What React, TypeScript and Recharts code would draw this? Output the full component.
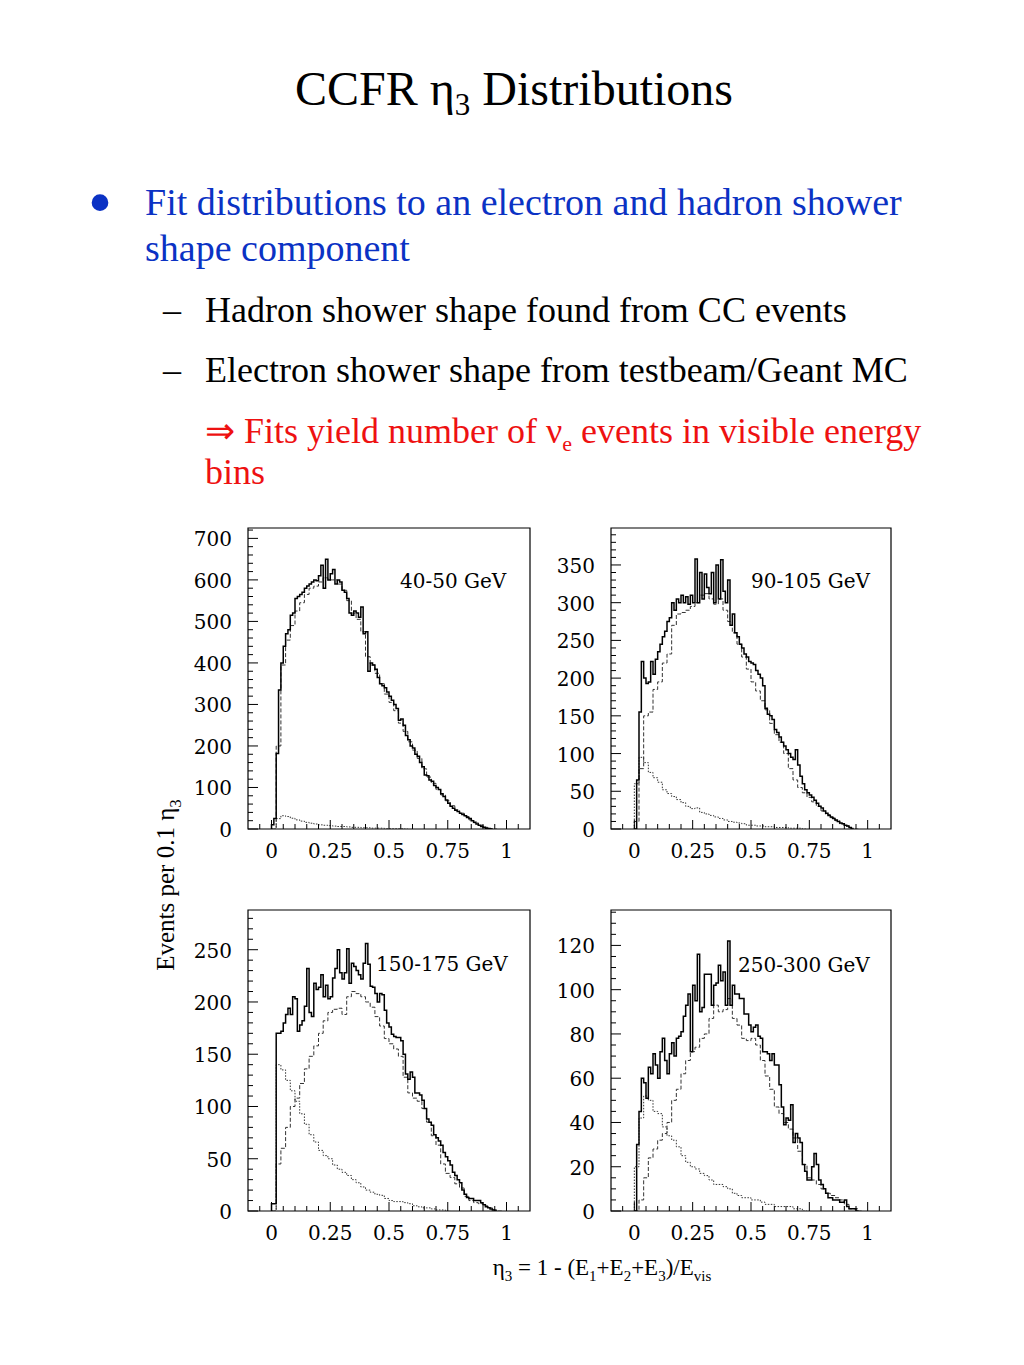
import { LineChart, Line, XAxis, YAxis, ReferenceArea } from 'recharts';

// energy bins shown in the four panels
const energyBins = ['40-50 GeV', '90-105 GeV', '150-175 GeV', '250-300 GeV'];

// data histograms use 0.01 bins, fit components use 0.02 bins (starting at eta3 = 0)
const dataBinWidth = 0.01;
const fitBinWidth = 0.02;

const p1Data = [10, 25, 182, 335, 400, 440, 470, 480, 515, 520, 555, 560, 565, 570, 580, 585, 590, 595, 600, 598,
  610, 635, 580, 650, 600, 615, 625, 590, 600, 595, 575, 570, 555, 520, 515, 525, 520, 510, 535, 470,
  475, 380, 400, 395, 385, 365, 350, 345, 340, 330, 320, 310, 300, 290, 262, 265, 250, 225, 215, 200,
  195, 180, 175, 160, 150, 130, 128, 118, 115, 105, 100, 95, 85, 78, 70, 62, 55, 50, 45, 42,
  38, 35, 32, 28, 25, 20, 16, 12, 9, 6, 4, 2, 1, 0];
const p1Hadron = [0, 200, 395, 455, 490, 525, 545, 565, 580, 585, 595, 605, 600, 600, 590, 575, 550, 520, 505, 475,
  415, 395, 375, 350, 325, 305, 285, 255, 235, 210, 190, 170, 145, 125, 110, 95, 82, 68, 56, 46,
  38, 30, 22, 15, 9, 4, 1, 0];
const p1Electron = [0, 25, 32, 30, 26, 22, 19, 16, 14, 12, 10, 9, 8, 7, 6, 6, 5, 4, 4, 3, 3, 2, 2, 2, 1, 1, 1, 1, 0];

const p2Data = [0, 65, 155, 222, 200, 193, 195, 222, 205, 225, 235, 245, 255, 262, 275, 280, 300, 290, 305, 300,
  310, 300, 308, 298, 310, 300, 358, 300, 340, 305, 338, 320, 312, 340, 300, 350, 305, 357, 315, 300,
  330, 270, 285, 260, 255, 245, 240, 232, 228, 222, 220, 218, 210, 205, 200, 190, 160, 152, 150, 145,
  132, 128, 122, 115, 110, 105, 100, 95, 92, 105, 85, 70, 60, 52, 48, 45, 42, 38, 34, 30,
  28, 24, 21, 18, 16, 14, 12, 10, 8, 7, 5, 4, 2, 0];
const p2Hadron = [10, 80, 150, 155, 185, 195, 220, 232, 270, 285, 287, 290, 295, 300, 310, 312, 305, 298, 305, 290,
  275, 260, 245, 228, 212, 195, 183, 170, 158, 140, 125, 115, 100, 80, 65, 55, 48, 42, 36, 30,
  24, 19, 15, 11, 7, 4, 1, 0];
const p2Electron = [60, 95, 88, 75, 68, 62, 52, 47, 43, 39, 35, 30, 27, 28, 22, 20, 18, 16, 14, 12,
  10, 9, 8, 7, 5, 5, 4, 4, 3, 3, 2, 2, 2, 1, 1, 1, 0];

const p3Data = [7, 7, 170, 170, 172, 180, 188, 194, 188, 205, 203, 172, 178, 182, 196, 232, 190, 186, 218, 212,
  214, 226, 205, 216, 203, 205, 223, 232, 250, 228, 222, 228, 251, 218, 237, 234, 230, 226, 222, 237,
  256, 236, 215, 214, 208, 200, 208, 207, 192, 180, 176, 169, 167, 166, 166, 163, 150, 131, 126, 133,
  128, 113, 113, 111, 106, 98, 88, 85, 82, 73, 70, 67, 63, 56, 52, 48, 44, 37, 34, 30,
  27, 20, 16, 13, 12, 12, 10, 10, 10, 8, 6, 4, 3, 2, 1, 0];
const p3Hadron = [0, 45, 60, 80, 100, 108, 122, 136, 148, 158, 170, 182, 190, 193, 194, 188, 205, 210, 208, 205,
  200, 195, 186, 177, 165, 160, 155, 148, 128, 113, 108, 105, 98, 85, 72, 63, 45, 36, 32, 26,
  22, 14, 10, 8, 7, 5, 3, 1, 0];
const p3Electron = [0, 140, 135, 125, 115, 105, 93, 83, 73, 66, 58, 53, 50, 44, 40, 37, 34, 30, 27, 23,
  20, 18, 16, 15, 12, 10, 9, 9, 8, 7, 5, 4, 3, 3, 2, 1, 1, 0];

const p4Data = [0, 30, 45, 60, 58, 51, 65, 62, 71, 66, 60, 72, 78, 68, 62, 71, 76, 70, 78, 79,
  81, 88, 93, 98, 72, 102, 95, 116, 90, 92, 107, 107, 107, 93, 102, 103, 111, 104, 108, 93,
  122, 93, 102, 98, 98, 96, 96, 89, 89, 84, 81, 83, 84, 79, 78, 72, 72, 71, 68, 71,
  66, 66, 57, 47, 39, 42, 41, 48, 31, 35, 33, 31, 21, 18, 14, 14, 20, 26, 21, 14,
  12, 10, 8, 6, 6, 5, 5, 5, 4, 4, 5, 2, 1, 1, 1, 0];
const p4Hadron = [0, 5, 15, 24, 28, 32, 35, 40, 50, 55, 62, 68, 72, 74, 78, 80, 87, 93, 90, 91,
  96, 87, 84, 78, 77, 78, 75, 68, 61, 55, 47, 44, 40, 37, 33, 27, 21, 15, 14, 12,
  10, 8, 7, 6, 5, 3, 1, 1, 0];
const p4Electron = [20, 42, 52, 50, 45, 44, 38, 34, 32, 29, 25, 22, 20, 19, 17, 16, 14, 12, 12, 11,
  10, 8, 7, 6, 6, 5, 5, 4, 3, 3, 2, 2, 2, 2, 1, 1, 0];

const dataSeries = [p1Data, p2Data, p3Data, p4Data];
const hadronSeries = [p1Hadron, p2Hadron, p3Hadron, p4Hadron];
const electronSeries = [p1Electron, p2Electron, p3Electron, p4Electron];

// y axis ranges per panel
const yTop = [725, 399, 288, 136];
const yMinorStep = [20, 10, 10, 5];
const yMajorStep = [100, 50, 50, 20];

// plot area placement on the page
const plotBoxes = [
  { left: 248, top: 528, width: 282 },
  { left: 611, top: 528, width: 280 },
  { left: 248, top: 910, width: 282 },
  { left: 611, top: 910, width: 280 },
];
const plotHeight = 301;
const labelPos = [
  { x: 400, y: 588 },
  { x: 751, y: 588 },
  { x: 376, y: 971 },
  { x: 738, y: 972 },
];

const Y_AXIS_W = 70;
const X_AXIS_H = 45;
const M = 10;

const xTicks = Array.from({ length: 23 }, (_, i) => Math.round((-0.05 + i * 0.05) * 100) / 100);

const tickFont = '"DejaVu Serif", serif';
const textFont = '"Liberation Serif", "Times New Roman", serif';

function toSteps(vals: number[], w: number) {
  const pts = [{ x: 0, y: 0 }];
  vals.forEach((v, i) => pts.push({ x: +(i * w).toFixed(3), y: v }));
  pts.push({ x: +(vals.length * w).toFixed(3), y: 0 });
  return pts;
}

function XTick(props: any) {
  const { x, y, payload } = props;
  const v = payload.value;
  const major = v >= 0 && v <= 1 && Math.abs(v * 4 - Math.round(v * 4)) < 1e-6;
  return (
    <g>
      <line x1={x} x2={x} y1={y} y2={y - (major ? 9 : 5)} stroke="#000" strokeWidth={1} />
      {major && (
        <text x={x} y={y + 29} textAnchor="middle" fontFamily={tickFont} fontSize={20} fill="#000">
          {String(v)}
        </text>
      )}
    </g>
  );
}

function makeYTick(majorStep: number) {
  return (props: any) => {
    const { x, y, payload } = props;
    const v = payload.value;
    const major = v % majorStep === 0;
    return (
      <g>
        <line x1={x} x2={x + (major ? 10 : 5)} y1={y} y2={y} stroke="#000" strokeWidth={1} />
        {major && (
          <text x={x - 16} y={y + 8} textAnchor="end" fontFamily={tickFont} fontSize={20} fill="#000">
            {v}
          </text>
        )}
      </g>
    );
  };
}

function Panel({ idx }: { idx: number }) {
  const box = plotBoxes[idx];
  const top = yTop[idx];
  const yTicks: number[] = [];
  for (let v = 0; v < top; v += yMinorStep[idx]) yTicks.push(v);
  const w = Y_AXIS_W + box.width + M;
  const h = M + plotHeight + X_AXIS_H;
  return (
    <div style={{ position: 'absolute', left: box.left - Y_AXIS_W, top: box.top - M, width: w, height: h }}>
      <LineChart width={w} height={h} margin={{ top: M, right: M, left: 0, bottom: 0 }}>
        <XAxis
          dataKey="x"
          type="number"
          domain={[-0.1, 1.1]}
          allowDataOverflow
          ticks={xTicks}
          interval={0}
          tickSize={0}
          tickMargin={0}
          axisLine={false}
          tickLine={false}
          height={X_AXIS_H}
          tick={XTick}
        />
        <YAxis
          type="number"
          domain={[0, top]}
          allowDataOverflow
          ticks={yTicks}
          interval={0}
          tickSize={0}
          tickMargin={0}
          axisLine={false}
          tickLine={false}
          width={Y_AXIS_W}
          tick={makeYTick(yMajorStep[idx])}
        />
        <ReferenceArea x1={-0.1} x2={1.1} y1={0} y2={top} fill="none" stroke="#000" strokeWidth={1.2} ifOverflow="visible" />
        <Line
          data={toSteps(electronSeries[idx], fitBinWidth)}
          dataKey="y"
          type="stepAfter"
          stroke="#333"
          strokeWidth={1}
          strokeDasharray="1.5 1.5"
          dot={false}
          activeDot={false}
          isAnimationActive={false}
        />
        <Line
          data={toSteps(hadronSeries[idx], fitBinWidth)}
          dataKey="y"
          type="stepAfter"
          stroke="#333"
          strokeWidth={1}
          strokeDasharray="4 2"
          dot={false}
          activeDot={false}
          isAnimationActive={false}
        />
        <Line
          data={toSteps(dataSeries[idx], dataBinWidth)}
          dataKey="y"
          type="stepAfter"
          stroke="#000"
          strokeWidth={1.5}
          dot={false}
          activeDot={false}
          isAnimationActive={false}
        />
      </LineChart>
    </div>
  );
}

export default function App() {
  const blue = '#0b32c4';
  const red = '#ee1111';
  return (
    <div style={{ position: 'absolute', left: 0, top: 0, width: 1024, height: 1365, background: '#fff' }}>
      {[0, 1, 2, 3].map((i) => (
        <Panel key={i} idx={i} />
      ))}
      <svg width={1024} height={1365} style={{ position: 'absolute', left: 0, top: 0, pointerEvents: 'none' }}>
        <text x={514} y={105} textAnchor="middle" fontFamily={textFont} fontSize={48} fill="#000">
          CCFR η<tspan dy={10} fontSize={31}>3</tspan>
          <tspan dy={-10}> Distributions</tspan>
        </text>

        <text x={100} y={226} textAnchor="middle" fontFamily={textFont} fontSize={70} fill={blue}>•</text>
        <text x={145} y={215} fontFamily={textFont} fontSize={38} fill={blue}>
          Fit distributions to an electron and hadron shower
        </text>
        <text x={145} y={261} fontFamily={textFont} fontSize={38} fill={blue}>shape component</text>

        <text x={163} y={322} fontFamily={textFont} fontSize={36} fill="#000">–</text>
        <text x={205} y={322} fontFamily={textFont} fontSize={36} fill="#000">
          Hadron shower shape found from CC events
        </text>
        <text x={163} y={382} fontFamily={textFont} fontSize={36} fill="#000">–</text>
        <text x={205} y={382} fontFamily={textFont} fontSize={36} fill="#000">
          Electron shower shape from testbeam/Geant MC
        </text>
        <text x={205} y={443} fontFamily={textFont} fontSize={36} fill={red}>
          ⇒ Fits yield number of ν<tspan dy={8} fontSize={22}>e</tspan>
          <tspan dy={-8}> events in visible energy</tspan>
        </text>
        <text x={205} y={484} fontFamily={textFont} fontSize={36} fill={red}>bins</text>

        {energyBins.map((lab, i) => (
          <text key={lab} x={labelPos[i].x} y={labelPos[i].y} fontFamily={tickFont} fontSize={20} fill="#000">
            {lab}
          </text>
        ))}

        <text transform="translate(174,885) rotate(-90)" textAnchor="middle" fontFamily={textFont} fontSize={25} fill="#000">
          Events per 0.1 η<tspan dy={7} fontSize={17}>3</tspan>
        </text>
        <text x={602} y={1275} textAnchor="middle" fontFamily={textFont} fontSize={23} fill="#000">
          η<tspan dy={6} fontSize={15}>3</tspan>
          <tspan dy={-6}> = 1 - (E</tspan>
          <tspan dy={6} fontSize={15}>1</tspan>
          <tspan dy={-6}>+E</tspan>
          <tspan dy={6} fontSize={15}>2</tspan>
          <tspan dy={-6}>+E</tspan>
          <tspan dy={6} fontSize={15}>3</tspan>
          <tspan dy={-6}>)/E</tspan>
          <tspan dy={6} fontSize={15}>vis</tspan>
        </text>
      </svg>
    </div>
  );
}
